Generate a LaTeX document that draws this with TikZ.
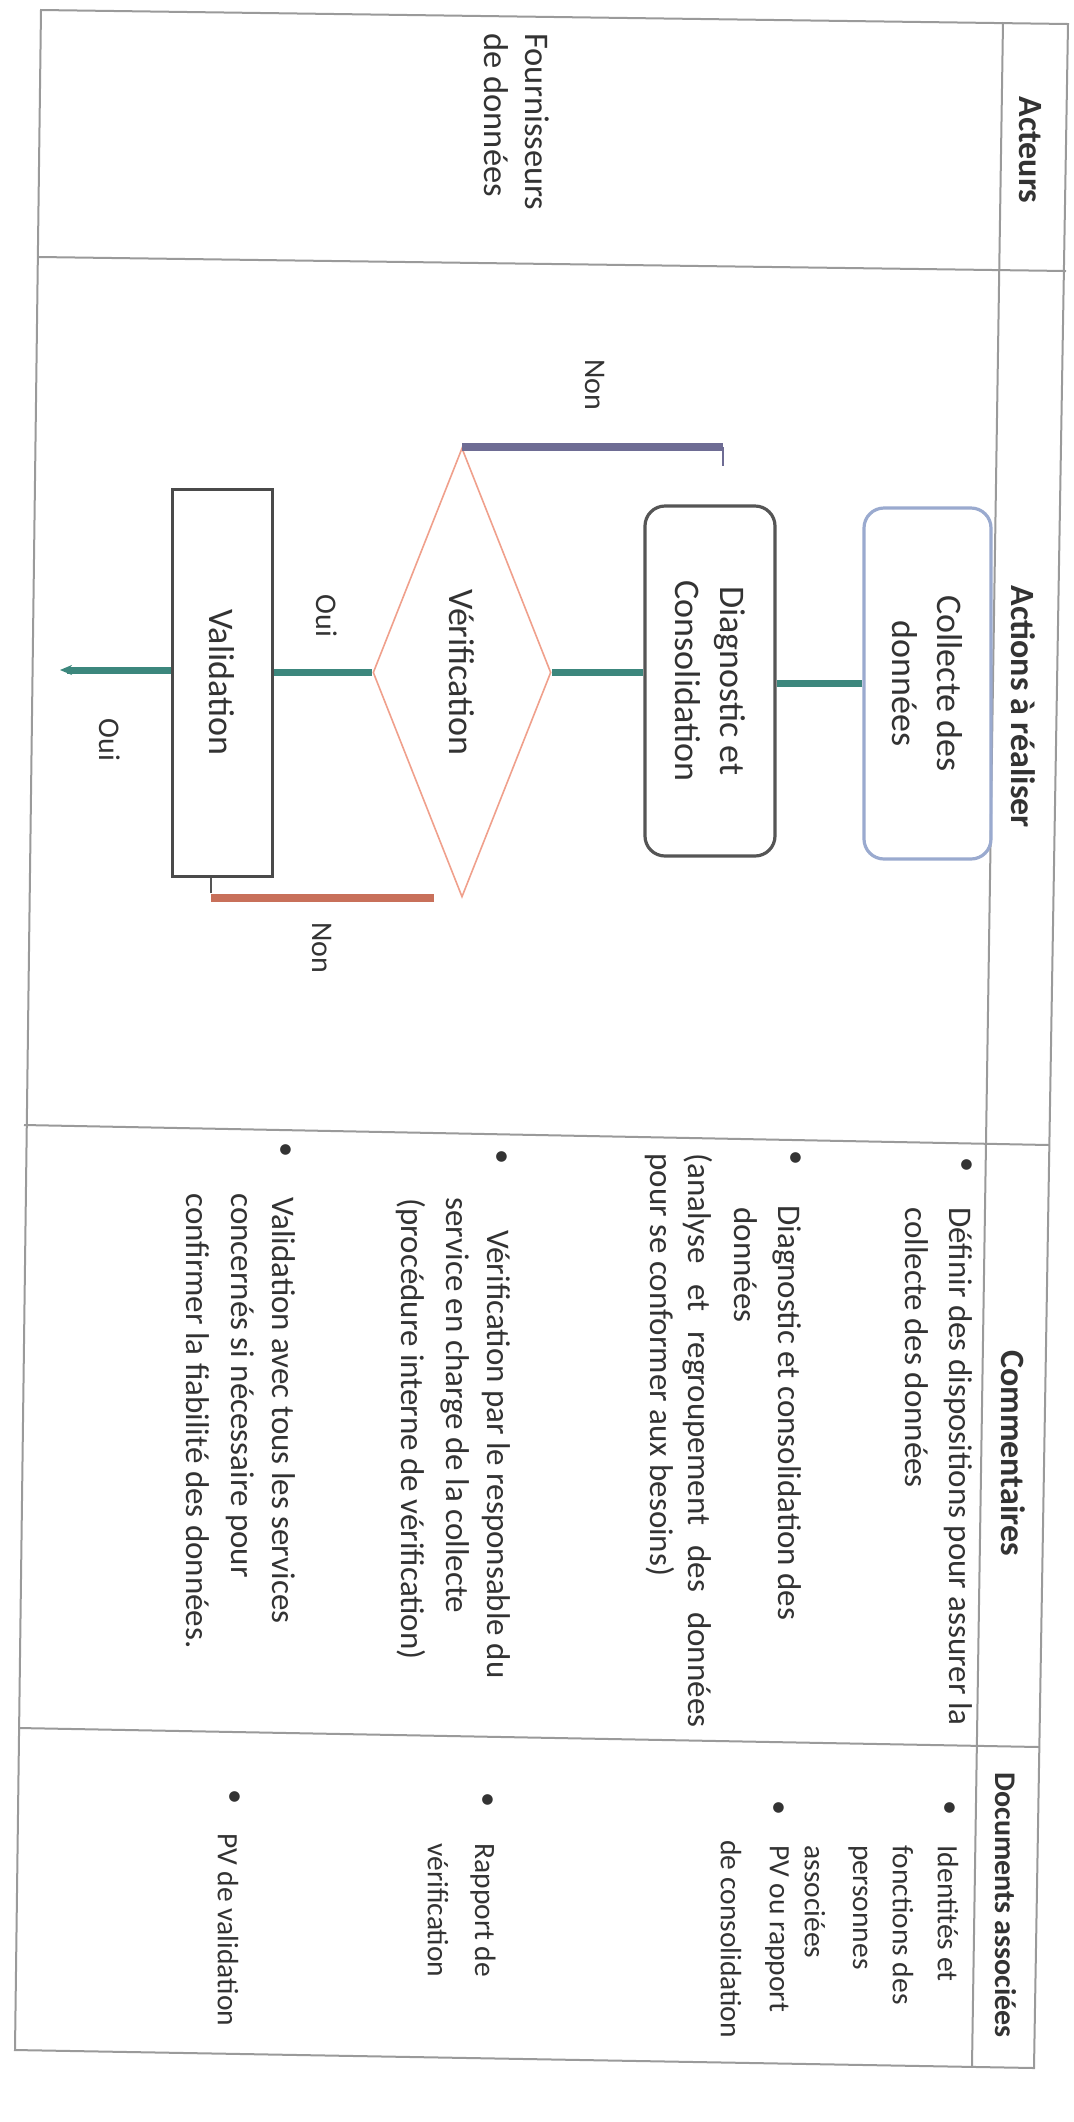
\documentclass[tikz,border=0pt]{standalone}
\usepackage{fontspec}
\setmainfont{Carlito}
\usetikzlibrary{shapes.geometric,arrows.meta}
\definecolor{tablec}{HTML}{9A9A9A}
\definecolor{txtc}{HTML}{333333}
\definecolor{tealc}{HTML}{3C877D}
\definecolor{slatec}{HTML}{6E6C94}
\definecolor{brickc}{HTML}{C8705A}
\definecolor{verc}{HTML}{F0A08C}
\definecolor{collc}{HTML}{9AAACF}
\definecolor{diagc}{HTML}{555555}
\definecolor{valc}{HTML}{4A4A4A}
\tikzset{
  tabline/.style={draw=tablec, line width=1pt},
  rtxt/.style={rotate=-90, inner sep=0pt, text=txtc},
  hdr/.style={rtxt, font=\bfseries\fontsize{17}{20}\selectfont},
  cmtxt/.style={rtxt, anchor=west, font=\fontsize{16.5}{20}\selectfont},
  doctxt/.style={rtxt, anchor=west, font=\fontsize{14.75}{18}\selectfont},
  bullt/.style={rtxt, font=\fontsize{15}{18}\selectfont},
  lbltxt/.style={rtxt, font=\fontsize{15}{18}\selectfont},
  flowtxt/.style={rtxt, align=center, font=\fontsize{18}{22.5}\selectfont},
  conn/.style={draw=tealc, line width=3.5pt},
}
\begin{document}
\begin{tikzpicture}[x=0.5pt,y=-0.5pt]
\fill[white] (0,0) rectangle (1073,2122);
\useasboundingbox (0,0) rectangle (1073,2122);
% table
\draw[tabline] (41,10) -- (1068,24) -- (1034,2068) -- (15,2050) -- cycle;
\draw[tabline] (1003,22) -- (972,2066);
\draw[tabline] (39,257) -- (1066,271);
\draw[tabline] (24,1125) -- (1049,1145);
\draw[tabline] (19,1728) -- (1039,1747);
% headers
\node[hdr] (hA) at (1030,150) {Acteurs};
\node[hdr] (hB) at (1023,707) {Actions à réaliser};
\node[hdr] (hC) at (1013,1453) {Commentaires};
\node[hdr, font=\bfseries\fontsize{15}{18}\selectfont] (hD) at (1006,1905) {Documents associées};
% actors
\node[rtxt, anchor=west, font=\fontsize{17.25}{20}\selectfont] (f1) at (537,33) {Fournisseurs};
\node[rtxt, anchor=west, font=\fontsize{17.25}{20}\selectfont] (f2) at (496,33) {de données};
% flow
\node[flowtxt, draw=collc, line width=1.6pt, rounded corners=10pt, minimum width=175.5pt, minimum height=63.5pt] (coll) at (927.5,683.5) {Collecte des\\données};
\node[flowtxt, draw=diagc, line width=1.6pt, rounded corners=10pt, minimum width=175pt, minimum height=65pt] (diag) at (710,681) {Diagnostic et\\Consolidation};
\node[flowtxt, diamond, shape aspect=2.5, draw=verc, line width=0.8pt, minimum width=224.5pt, minimum height=89pt] (ver) at (462,672.5) {Vérification};
\node[flowtxt, draw=valc, line width=1.5pt, minimum width=193.5pt, minimum height=50pt] (valid) at (222,682.5) {Validation};
\coordinate (out) at (60,670);
\coordinate (nonT) at (723,466);
\coordinate (nonBl) at (211,893);
\draw[conn] (coll.south) -- (coll.south -| diag.north);
\draw[conn] (diag.south |- ver.north) -- (ver.north);
\draw[conn] (ver.south) -- (ver.south -| valid.north);
\draw[conn, -{Stealth[length=6pt,width=5pt]}] (valid.south |- out) -- (out);
\draw[draw=slatec, line width=4pt] (ver.west) -- (ver.west -| nonT);
\draw[draw=slatec, line width=1.2pt] (ver.west -| nonT) -- (nonT);
\draw[draw=brickc, line width=4pt, shorten <=14pt] (ver.east) -- (ver.east -| nonBl);
\draw[draw=diagc, line width=0.8pt] (nonBl) -- (valid.east -| nonBl);
% labels
\node[lbltxt] (nonA) at (595,385) {Non};
\node[lbltxt] (ouiA) at (327,616) {Oui};
\node[lbltxt] (ouiB) at (110,740) {Oui};
\node[lbltxt] (nonB) at (322,948) {Non};
% comments
\node[bullt] (b1) at (965,1165) {•};
\node[cmtxt] (c1a) at (958,1207) {Définir des dispositions pour assurer la};
\node[cmtxt] (c1b) at (917,1207) {collecte des données};
\node[bullt] (b2) at (794,1158) {•};
\node[cmtxt] (c2a) at (787,1205) {Diagnostic et consolidation des};
\node[cmtxt] (c2b) at (746,1207) {données};
\node[cmtxt] (c2c) at (698,1153) {\makebox[287pt][s]{(analyse et regroupement des données}};
\node[cmtxt] (c2d) at (660,1153) {pour se conformer aux besoins)};
\node[bullt] (b3) at (500,1157) {•};
\node[cmtxt] (c3a) at (496,1230) {Vérification par le responsable du};
\node[cmtxt] (c3b) at (455,1197) {service en charge de la collecte};
\node[cmtxt] (c3c) at (411,1198) {(procédure interne de vérification)};
\node[bullt] (b4) at (284,1150) {•};
\node[cmtxt] (c4a) at (284,1197) {Validation avec tous les services};
\node[cmtxt] (c4b) at (240,1193) {concernés si nécessaire pour};
\node[cmtxt] (c4c) at (198,1193) {confirmer la fiabilité des données.};
% documents
\node[bullt] (d1) at (948,1808) {•};
\node[doctxt] (d1a) at (948,1845) {Identités et};
\node[doctxt] (d1b) at (903,1845) {fonctions des};
\node[doctxt] (d1c) at (858,1845) {personnes};
\node[doctxt] (d1d) at (815,1845) {associées};
\node[bullt] (d2) at (777,1808) {•};
\node[doctxt] (d2a) at (777,1845) {PV ou rapport};
\node[doctxt] (d2b) at (731,1840) {de consolidation};
\node[bullt] (d3) at (486,1800) {•};
\node[doctxt] (d3a) at (483,1843) {Rapport de};
\node[doctxt] (d3b) at (438,1843) {vérification};
\node[bullt] (d4) at (233,1797) {•};
\node[doctxt] (d4a) at (228,1833) {PV de validation};
\end{tikzpicture}
\end{document}
